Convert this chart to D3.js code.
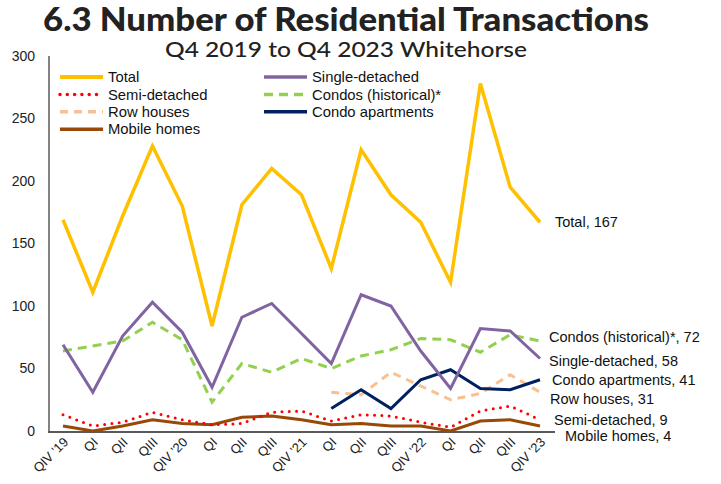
<!DOCTYPE html>
<html>
<head>
<meta charset="utf-8">
<script src="https://cdn.jsdelivr.net/npm/d3@7"></script>
<style>
  body { margin: 0; background: #fff; }
  svg { display: block; font-family: Arial, "Liberation Sans", sans-serif; }
</style>
</head>
<body>
<svg id="chart"></svg>
<script>
const quarters = ["QIV '19", "QI", "QII", "QIII", "QIV '20", "QI", "QII", "QIII", "QIV '21",
                  "QI", "QII", "QIII", "QIV '22", "QI", "QII", "QIII", "QIV '23"];
const total        = [169, 111, 172, 228, 180, 84, 181, 210, 189, 130, 225, 189, 167, 119, 278, 195, 167];
const single       = [69, 31, 76, 103, 79, 35, 91, 102, 78, 54, 109, 100, 64, 34, 82, 80, 58];
const semi         = [13, 4, 7, 15, 9, 5, 6, 15, 16, 8, 13, 12, 7, 3, 16, 20, 9];
const condosHist   = [64, 68, 72, 87, 73, 23, 54, 47, 58, 50, 60, 65, 74, 73, 63, 77, 72];
const rowHouses    = [null, null, null, null, null, null, null, null, null, 31, 29, 47, 36, 25, 30, 45, 31];
const condoApts    = [null, null, null, null, null, null, null, null, null, 18, 33, 18, 41, 49, 34, 33, 41];
const mobileHomes  = [4, 0, 4, 9, 6, 5, 11, 12, 9, 5, 6, 4, 4, 0, 8, 9, 4];
const yTicks = [0, 50, 100, 150, 200, 250, 300];

const width = 721, height = 484;
const svg = d3.select("#chart").attr("width", width).attr("height", height);

const x = d3.scalePoint().domain(d3.range(quarters.length)).range([63, 540]);
const y = d3.scaleLinear().domain([0, 300]).range([431, 56]);

// series styling, drawn back to front
const series = [
  { name: "Mobile homes", values: mobileHomes, color: "#984807", width: 3, dash: null, label: "Mobile homes, 4", dx: 25, dy: 10 },
  { name: "Semi-detached", values: semi, color: "#FF0000", width: 3, dash: "0,7.3", cap: "round", label: "Semi-detached, 9", dx: 14, dy: 0 },
  { name: "Row houses", values: rowHouses, color: "#FAC090", width: 3, dash: "8,6", label: "Row houses, 31", dx: 10, dy: 7 },
  { name: "Condo apartments", values: condoApts, color: "#002060", width: 3, dash: null, label: "Condo apartments, 41", dx: 12, dy: 0 },
  { name: "Condos (historical)*", values: condosHist, color: "#92D050", width: 3, dash: "9,6", label: "Condos (historical)*, 72", dx: 9, dy: -4 },
  { name: "Single-detached", values: single, color: "#8064A2", width: 3, dash: null, label: "Single-detached, 58", dx: 9, dy: 2 },
  { name: "Total", values: total, color: "#FFC000", width: 3.5, dash: null, label: "Total, 167", dx: 15, dy: 0 }
];

// title
svg.append("text")
   .attr("x", 346).attr("y", 31)
   .attr("text-anchor", "middle")
   .attr("textLength", 606)
   .attr("lengthAdjust", "spacingAndGlyphs")
   .style("font-family", "Lato, 'Open Sans', sans-serif")
   .style("font-weight", 900)
   .style("font-size", "32px")
   .attr("fill", "#222")
   .text("6.3 Number of Residential Transactions");
svg.append("text")
   .attr("x", 346).attr("y", 57)
   .attr("text-anchor", "middle")
   .attr("textLength", 362)
   .attr("lengthAdjust", "spacingAndGlyphs")
   .style("font-family", "Lato, 'Open Sans', sans-serif")
   .style("font-weight", 500)
   .style("font-size", "22px")
   .attr("fill", "#222")
   .text("Q4 2019 to Q4 2023 Whitehorse");

// y axis labels
svg.append("g").selectAll("text")
   .data(yTicks).enter().append("text")
   .attr("x", 35)
   .attr("y", d => y(d))
   .attr("dy", "0.35em")
   .attr("text-anchor", "end")
   .style("font-size", "14px")
   .attr("fill", "#222")
   .text(d => d);

// axes lines
svg.append("line").attr("x1", 49).attr("x2", 49).attr("y1", 56).attr("y2", 432)
   .attr("stroke", "#595959").attr("stroke-width", 1.5);
svg.append("line").attr("x1", 48).attr("x2", 555).attr("y1", 432).attr("y2", 432)
   .attr("stroke", "#595959").attr("stroke-width", 2);

// x labels
svg.append("g").selectAll("text")
   .data(quarters).enter().append("text")
   .attr("transform", (d, i) => `translate(${x(i) + 6},${443}) rotate(-45)`)
   .attr("text-anchor", "end")
   .style("font-size", "13px")
   .attr("fill", "#222")
   .text(d => d);

// lines
const line = d3.line()
   .defined(d => d != null)
   .x((d, i) => x(i))
   .y(d => y(d));

series.forEach(s => {
  svg.append("path")
     .datum(s.values)
     .attr("d", line)
     .attr("fill", "none")
     .attr("stroke", s.color)
     .attr("stroke-width", s.width)
     .attr("stroke-dasharray", s.dash)
     .attr("stroke-linecap", s.cap || "butt")
     .attr("stroke-linejoin", "miter");

  const last = s.values.length - 1;
  svg.append("text")
     .attr("x", x(last) + s.dx)
     .attr("y", y(s.values[last]) + s.dy)
     .attr("dy", "0.35em")
     .style("font-size", "14.5px")
     .attr("fill", "#111")
     .text(s.label);
});

// legend
const legendOrder = ["Total", "Single-detached", "Semi-detached", "Condos (historical)*",
                     "Row houses", "Condo apartments", "Mobile homes"];
legendOrder.forEach((name, i) => {
  const s = series.find(d => d.name === name);
  const col = i % 2, row = Math.floor(i / 2);
  const lx = col === 0 ? 60 : 264;
  const ly = 77 + row * 17.4;
  svg.append("line")
     .attr("x1", lx).attr("x2", lx + 43)
     .attr("y1", ly).attr("y2", ly)
     .attr("stroke", s.color)
     .attr("stroke-width", name === "Total" ? 4 : 3.5)
     .attr("stroke-dasharray", s.dash)
     .attr("stroke-linecap", s.cap || "butt");
  svg.append("text")
     .attr("x", lx + 48).attr("y", ly)
     .attr("dy", "0.35em")
     .style("font-size", "14.8px")
     .attr("fill", "#111")
     .text(name);
});
</script>
</body>
</html>
